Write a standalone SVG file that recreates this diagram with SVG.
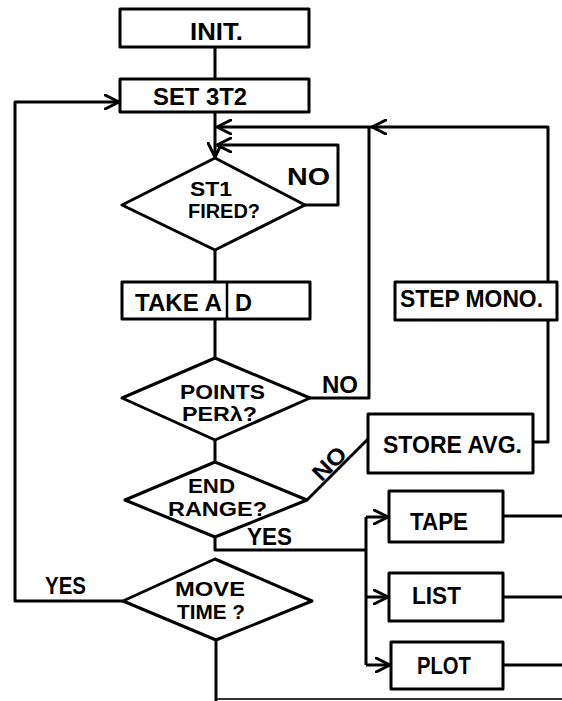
<svg xmlns="http://www.w3.org/2000/svg" width="562" height="701" viewBox="0 0 562 701">
<style>
.b{fill:#fff;stroke:#000;stroke-width:3;stroke-linejoin:round}
.c{fill:none;stroke:#000;stroke-width:3;stroke-linejoin:round}
.t{font-family:"Liberation Sans",Arial,sans-serif;font-weight:bold;font-size:23px;fill:#000}
.d{font-size:20px}
.m{text-anchor:middle}
</style>
<defs>
<marker id="ah" viewBox="0 0 16 16" refX="15" refY="8" markerWidth="16" markerHeight="16" markerUnits="userSpaceOnUse" orient="auto">
<path d="M1,1 L15,8 L1,15" fill="none" stroke="#000" stroke-width="3" stroke-linejoin="round" stroke-linecap="round"/>
</marker>
</defs>
<rect width="562" height="701" fill="#fff"/>
<g id="connectors" class="c">
<path d="M215,47 V79"/>
<path d="M215,112 V157" marker-end="url(#ah)"/>
<path d="M548,282 V127 H372" marker-end="url(#ah)"/>
<path d="M372,127 H217" marker-end="url(#ah)"/>
<path d="M305,205 H338 V145 H217" marker-end="url(#ah)"/>
<path d="M215,250 V282"/>
<path d="M215,319 V358"/>
<path d="M310,398 H369 V127"/>
<path d="M215,440 V462"/>
<path d="M533,442 H548 V320"/>
<path d="M307,500 L368,439"/>
<path d="M215,537 V550 H366"/>
<path d="M366,517 V665"/>
<path d="M366,517 H388" marker-end="url(#ah)"/>
<path d="M366,597 H388" marker-end="url(#ah)"/>
<path d="M366,665 H390" marker-end="url(#ah)"/>
<path d="M503,516 H562"/>
<path d="M503,597 H562"/>
<path d="M503,665 H562"/>
<path d="M123,601 H15 V102 H119" marker-end="url(#ah)"/>
<path d="M216,640 V701"/>
<path d="M217,699 H562" stroke="#333" stroke-width="2"/>
</g>
<g id="edge-labels" class="t">
<text x="287" y="185" textLength="43" lengthAdjust="spacingAndGlyphs">NO</text>
<text x="322" y="393" textLength="36" lengthAdjust="spacingAndGlyphs">NO</text>
<text class="m" transform="translate(335,469) rotate(-45)" textLength="38" lengthAdjust="spacingAndGlyphs">NO</text>
<text x="247" y="545" textLength="45" lengthAdjust="spacingAndGlyphs">YES</text>
<text x="45" y="594" textLength="41" lengthAdjust="spacingAndGlyphs">YES</text>
</g>
<g id="n-init">
<rect class="b" x="120" y="9" width="189" height="38"/>
<text class="t" x="190" y="40" textLength="53" lengthAdjust="spacingAndGlyphs">INIT.</text>
</g>
<g id="n-set3t2">
<rect class="b" x="120" y="79" width="189" height="33"/>
<text class="t" x="153" y="105" textLength="94" lengthAdjust="spacingAndGlyphs">SET 3T2</text>
</g>
<g id="n-st1">
<polygon class="b" points="215,158 305,205 215,250 122,205"/>
<text class="t d" x="190" y="195.5" textLength="42" lengthAdjust="spacingAndGlyphs">ST1</text>
<text class="t d" x="188" y="218" textLength="72" lengthAdjust="spacingAndGlyphs">FIRED?</text>
</g>
<g id="n-take">
<rect class="b" x="122" y="282" width="188" height="37"/>
<line x1="227" y1="282" x2="227" y2="319" stroke="#000" stroke-width="2.5"/>
<text class="t" x="135" y="311" textLength="87" lengthAdjust="spacingAndGlyphs">TAKE A</text>
<text class="t" x="235" y="311" textLength="17" lengthAdjust="spacingAndGlyphs">D</text>
</g>
<g id="n-step">
<rect class="b" x="395" y="282" width="162" height="38"/>
<text class="t" x="400" y="307" textLength="143" lengthAdjust="spacingAndGlyphs">STEP MONO.</text>
</g>
<g id="n-points">
<polygon class="b" points="215,358 310,398 215,440 122,398"/>
<text class="t d" x="180" y="398.5" textLength="85" lengthAdjust="spacingAndGlyphs">POINTS</text>
<text class="t d" x="182" y="421" textLength="75" lengthAdjust="spacingAndGlyphs">PERλ?</text>
</g>
<g id="n-store">
<rect class="b" x="368" y="414" width="165" height="59"/>
<text class="t" x="383" y="453" textLength="139" lengthAdjust="spacingAndGlyphs">STORE AVG.</text>
</g>
<g id="n-end">
<polygon class="b" points="215,462 307,500 215,537 125,500"/>
<text class="t d" x="188" y="493" textLength="47" lengthAdjust="spacingAndGlyphs">END</text>
<text class="t d" x="168" y="515.5" textLength="99" lengthAdjust="spacingAndGlyphs">RANGE?</text>
</g>
<g id="n-move">
<polygon class="b" points="215,559 312,601 216,640 123,601"/>
<text class="t d" x="175" y="596" textLength="70" lengthAdjust="spacingAndGlyphs">MOVE</text>
<text class="t d" x="177" y="618.5" textLength="68" lengthAdjust="spacingAndGlyphs">TIME ?</text>
</g>
<g id="n-tape">
<rect class="b" x="389" y="491" width="114" height="51"/>
<text class="t" x="410" y="530" textLength="58" lengthAdjust="spacingAndGlyphs">TAPE</text>
</g>
<g id="n-list">
<rect class="b" x="389" y="573" width="114" height="48"/>
<text class="t" x="412" y="604" textLength="49" lengthAdjust="spacingAndGlyphs">LIST</text>
</g>
<g id="n-plot">
<rect class="b" x="391" y="642" width="112" height="47"/>
<text class="t" x="417" y="674" textLength="54" lengthAdjust="spacingAndGlyphs">PLOT</text>
</g>
</svg>
